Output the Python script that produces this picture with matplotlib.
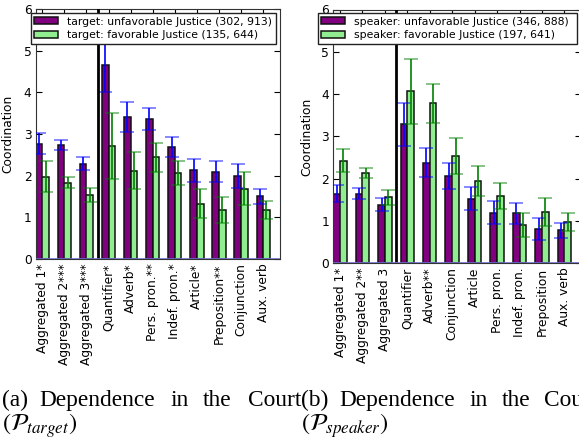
import matplotlib
matplotlib.use('Agg')
import matplotlib.pyplot as plt
import numpy as np

plt.rcParams['mathtext.fontset'] = 'stix'
plt.rcParams['font.family'] = ['DejaVu Sans']

# ---------------- data ----------------
labels_target = ['Aggregated 1*', 'Aggregated 2***', 'Aggregated 3***', 'Quantifier*',
                 'Adverb*', 'Pers. pron.**', 'Indef. pron.*', 'Article*',
                 'Preposition**', 'Conjunction', 'Aux. verb']
target_unfav = [2.77, 2.73, 2.29, 4.65, 3.41, 3.36, 2.70, 2.13, 2.10, 1.99, 1.51]
target_unfav_err = [0.25, 0.12, 0.15, 0.63, 0.37, 0.26, 0.24, 0.28, 0.26, 0.28, 0.18]
target_fav = [1.98, 1.83, 1.53, 2.71, 2.12, 2.44, 2.07, 1.33, 1.17, 1.69, 1.18]
target_fav_err = [0.37, 0.13, 0.17, 0.79, 0.44, 0.34, 0.29, 0.35, 0.31, 0.40, 0.22]
legend_target = ['target: unfavorable Justice (302, 913)',
                 'target: favorable Justice (135, 644)']

labels_speaker = ['Aggregated 1*', 'Aggregated 2**', 'Aggregated 3', 'Quantifier',
                  'Adverb**', 'Conjunction', 'Article', 'Pers. pron.',
                  'Indef. pron.', 'Preposition', 'Aux. verb']
speaker_unfav = [1.65, 1.65, 1.39, 3.29, 2.38, 2.06, 1.53, 1.20, 1.18, 0.82, 0.78]
speaker_unfav_err = [0.20, 0.12, 0.15, 0.51, 0.35, 0.30, 0.28, 0.27, 0.25, 0.26, 0.18]
speaker_fav = [2.43, 2.13, 1.56, 4.07, 3.78, 2.54, 1.95, 1.60, 0.91, 1.21, 0.98]
speaker_fav_err = [0.28, 0.12, 0.18, 0.77, 0.46, 0.42, 0.35, 0.31, 0.28, 0.34, 0.22]
legend_speaker = ['speaker: unfavorable Justice (346, 888)',
                  'speaker: favorable Justice (197, 641)']

caption_a = ['(a)', 'Dependence', 'in', 'the', 'Court']
caption_b = ['(b)', 'Dependence', 'in', 'the', 'Cour']
caption_a2 = r'$(\mathcal{P}_{target})$'
caption_b2 = r'$(\mathcal{P}_{speaker})$'

W, H = 579, 441
fig = plt.figure(figsize=(W / 100, H / 100), dpi=100)


def px(x0, y0, x1, y1):
    return [x0 / W, 1 - y1 / H, (x1 - x0) / W, (y1 - y0) / H]


def panel(ax, labels, unfav, unfav_err, fav, fav_err, leg_labels, leg_px, ylab_x):
    ind = np.arange(len(labels))
    w = 0.3
    ax.bar(ind, unfav, w, align='edge', color='purple', edgecolor='#111111',
           linewidth=1.1, label=leg_labels[0], zorder=2)
    ax.bar(ind + w, fav, w, align='edge', color='lightgreen', edgecolor='#111111',
           linewidth=1.1, label=leg_labels[1], zorder=2)
    eb1 = ax.errorbar(ind + w / 2, unfav, yerr=unfav_err, fmt='none', ecolor='blue',
                      elinewidth=1.2, capsize=5, capthick=1.2, zorder=3)
    for c in eb1[1]:
        c.set_alpha(0.55)
    eb2 = ax.errorbar(ind + 1.5 * w, fav, yerr=fav_err, fmt='none', ecolor='green',
                      elinewidth=1.2, capsize=5, capthick=1.2, zorder=3)
    for c in eb2[1]:
        c.set_alpha(0.55)
    ax.axvline(2.8, color='black', lw=2, zorder=4)
    ax.axhline(0, color='#6f6fd0', lw=1.2, zorder=4)
    ax.set_xlim(0, 11.05)
    ax.set_ylim(0, 6)
    ax.set_xticks(ind + w)
    ax.set_xticklabels(labels, rotation=90, fontsize=8.8)
    ax.set_yticks(range(7))
    ax.tick_params(direction='in', top=True, right=True, length=4, labelsize=8.8, pad=3)
    for s in ax.spines.values():
        s.set_color('#333333')
    ax.set_ylabel('Coordination', fontsize=8.8)
    ax.yaxis.set_label_coords(ylab_x, 0.5)
    x0, y0, x1 = leg_px
    leg = ax.legend(loc='upper left',
                    bbox_to_anchor=(x0 / W, 1 - y0 / H, (x1 - x0) / W, 0),
                    bbox_transform=fig.transFigure, mode='expand', borderaxespad=0,
                    fontsize=7.8, labelspacing=0.35, handlelength=2.2,
                    handleheight=0.65, handletextpad=0.8, borderpad=0.3,
                    fancybox=False, framealpha=1)
    leg.get_frame().set_edgecolor('#222222')
    leg.get_frame().set_linewidth(1.0)
    leg.set_zorder(10)


ax1 = fig.add_axes(px(35.7, 9, 279.7, 259))
panel(ax1, labels_target, target_unfav, target_unfav_err, target_fav, target_fav_err,
      legend_target, (31, 13.3, 276), -0.089)

ax2 = fig.add_axes(px(333.3, 9.5, 581.2, 263.3))
panel(ax2, labels_speaker, speaker_unfav, speaker_unfav_err, speaker_fav, speaker_fav_err,
      legend_speaker, (318, 13.3, 577), -0.082)

# captions
cap_font = dict(family='Liberation Serif', fontsize=16.8, va='baseline', ha='left')
xa = [2, 39, 170, 203, 248]
xb = [300.7, 339, 469, 502, 544]
for word, x in zip(caption_a, xa):
    fig.text(x / W, 1 - 406 / H, word, **cap_font)
for word, x in zip(caption_b, xb):
    fig.text(x / W, 1 - 406 / H, word, **cap_font)
fig.text(2 / W, 1 - 431 / H, caption_a2, fontsize=17.5, va='baseline', ha='left')
fig.text(300.7 / W, 1 - 431 / H, caption_b2, fontsize=17.5, va='baseline', ha='left')

fig.savefig('out.png', dpi=100)
